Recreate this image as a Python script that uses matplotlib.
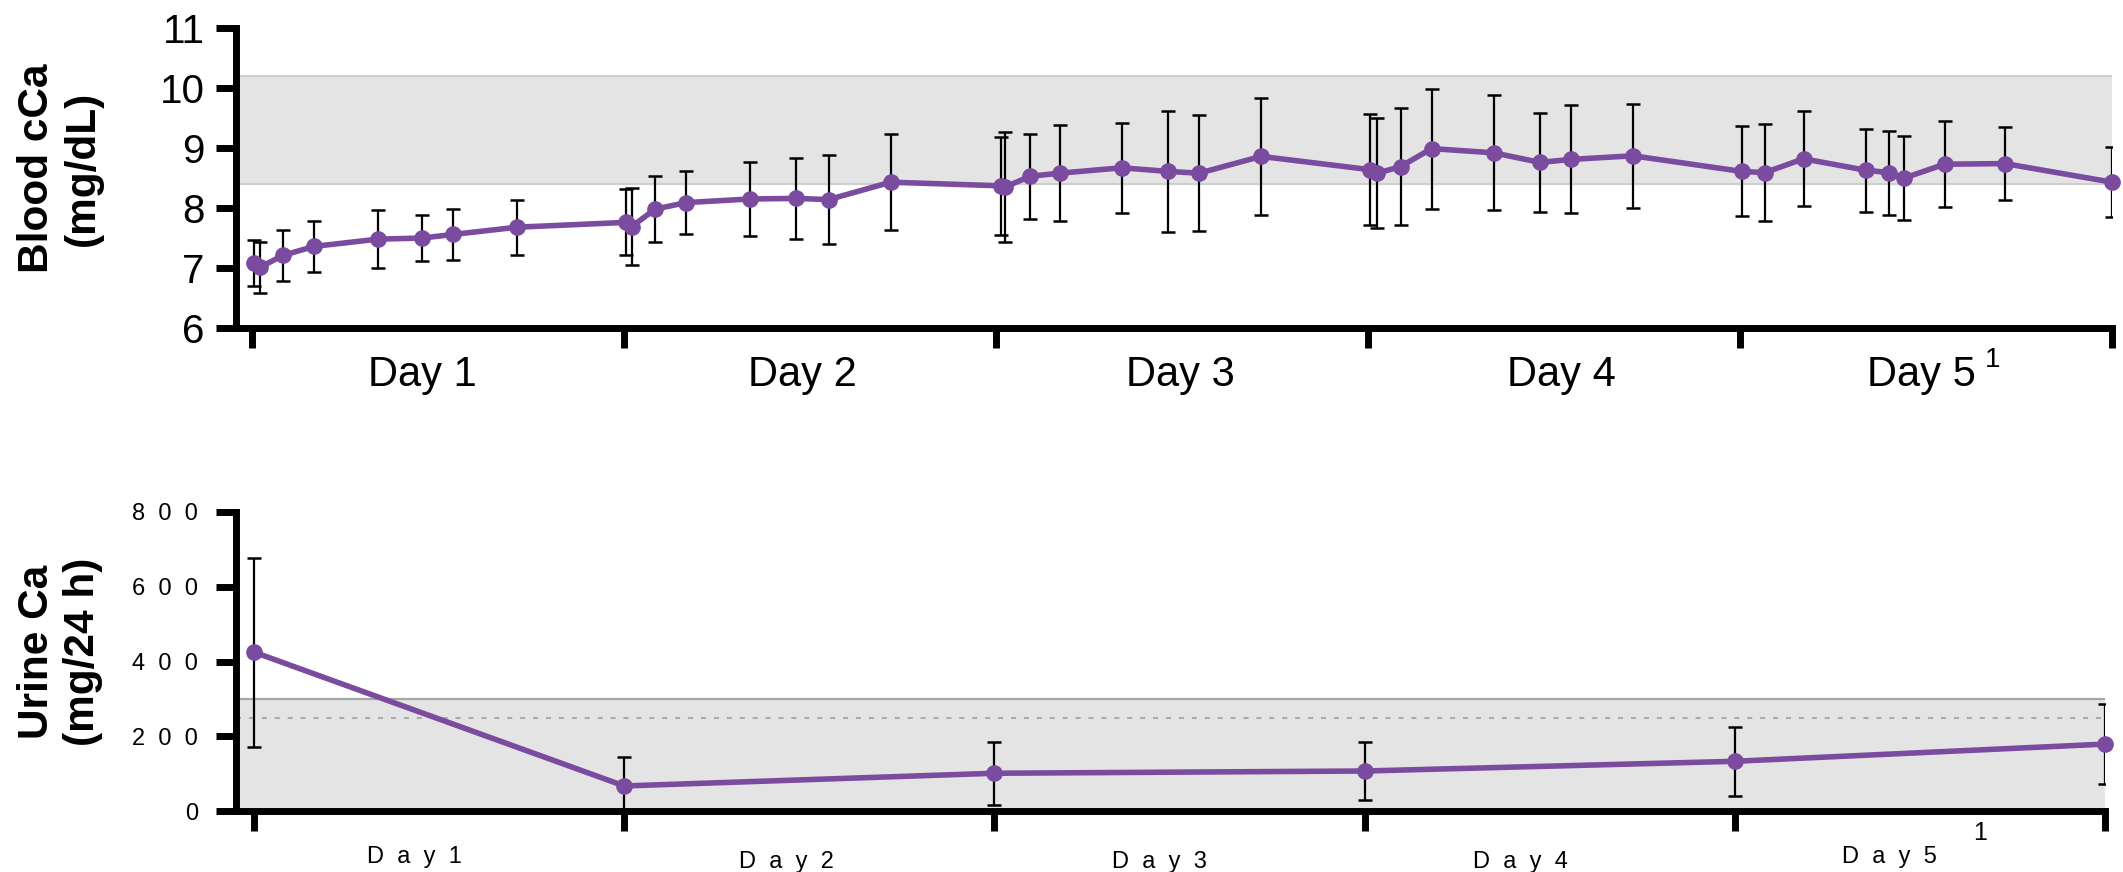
import matplotlib
matplotlib.use("Agg")
import matplotlib.pyplot as plt
import matplotlib.transforms as mtransforms
from matplotlib import font_manager

# ---- data ----
ca_hours = [0.1, 0.5, 2.0, 4.0, 8.1, 11.0, 13.0, 17.1, 24.1, 24.5, 26.0, 28.0, 32.1, 35.1,
            37.2, 41.2, 48.3, 48.6, 50.2, 52.1, 56.1, 59.1, 61.1, 65.1, 72.1, 72.6, 74.1,
            76.1, 80.1, 83.1, 85.1, 89.1, 96.1, 97.6, 100.1, 104.1, 105.6, 106.6, 109.2,
            113.1, 120.0]
ca_mean = [7.08, 7.01, 7.21, 7.36, 7.48, 7.50, 7.56, 7.68, 7.76, 7.69, 7.98, 8.09, 8.15, 8.16,
           8.14, 8.43, 8.37, 8.35, 8.53, 8.58, 8.67, 8.61, 8.58, 8.86, 8.64, 8.58, 8.69,
           8.99, 8.92, 8.76, 8.81, 8.87, 8.61, 8.59, 8.82, 8.63, 8.59, 8.50, 8.73,
           8.74, 8.43]
ca_sd = [0.38, 0.42, 0.43, 0.42, 0.48, 0.39, 0.43, 0.46, 0.55, 0.64, 0.55, 0.52, 0.61, 0.67,
         0.74, 0.80, 0.82, 0.91, 0.71, 0.80, 0.75, 1.01, 0.97, 0.97, 0.92, 0.92, 0.98,
         1.00, 0.96, 0.83, 0.90, 0.87, 0.75, 0.81, 0.79, 0.69, 0.70, 0.70, 0.72,
         0.61, 0.58]
ca_ref_range = (8.4, 10.2)

urine_hours = [0, 24, 48, 72, 96, 120]
urine_mean = [425, 67, 101, 107, 133, 179]
urine_sd = [253, 77, 84, 78, 92, 108]
urine_ref_top = 300
urine_ref_dotted = 250

day_ticks = [0, 24, 48, 72, 96, 120]
day_labels = ["Day 1", "Day 2", "Day 3", "Day 4", "Day 5"]
top_label_x = [11.0, 35.5, 59.9, 84.5, 107.7]
bot_label_x = [10.4, 34.5, 58.7, 82.1, 106.0]
ca_yticks = [6, 7, 8, 9, 10, 11]
urine_yticks = [0, 200, 400, 600, 800]

PURPLE = "#7A4B9F"
BAND = "#E4E4E4"

names = {f.name for f in font_manager.fontManager.ttflist}
if "Liberation Sans Narrow" in names:
    NARROW, SP = "Liberation Sans Narrow", "   "
else:
    NARROW, SP = "Liberation Sans", "  "

plt.rcParams["font.family"] = ["Liberation Sans", "DejaVu Sans"]


def spaced(s):
    return SP.join(s.replace(" ", ""))


W, H = 2123, 872
fig = plt.figure(figsize=(W / 100, H / 100), dpi=100)

# ---------------- top panel: blood cCa ----------------
ax1 = fig.add_axes([236 / W, 1 - 328 / H, (2112 - 236) / W, 300 / H])
ax1.axhspan(*ca_ref_range, color=BAND, lw=0, zorder=0)
for v in ca_ref_range:
    ax1.axhline(v, color="#CFCFCF", lw=1.5, zorder=0.5)
ax1.errorbar(ca_hours, ca_mean, yerr=ca_sd, fmt="none", ecolor="black",
             elinewidth=1.6, capsize=4.8, capthick=1.8, zorder=2)
ax1.plot(ca_hours, ca_mean, "-o", color=PURPLE, lw=4, ms=11, zorder=3, clip_on=False)
ax1.set_xlim(-1.03, 120)
ax1.set_ylim(6, 11)
ax1.set_yticks(ca_yticks)
ax1.set_yticklabels([str(v) for v in ca_yticks], fontsize=29)
ax1.set_xticks(day_ticks)
ax1.set_xticklabels([])

trans1 = mtransforms.blended_transform_factory(ax1.transData, ax1.transAxes)
for x, lab in zip(top_label_x, day_labels):
    ax1.text(x, -0.193, lab, transform=trans1, ha="center", va="baseline", fontsize=30)
ax1.text(112.3, -0.13, "1", transform=trans1, ha="center", va="baseline", fontsize=20)

# ---------------- bottom panel: urine Ca ----------------
ax2 = fig.add_axes([236 / W, 1 - 811 / H, (2105 - 236) / W, 299 / H])
ax2.axhspan(0, urine_ref_top, color=BAND, lw=0, zorder=0)
ax2.axhline(urine_ref_top, color="#A6A6A6", lw=1.6, zorder=0.5)
ax2.axhline(urine_ref_dotted, color="#ABABAB", lw=1.5, ls=(0, (2.4, 3.8)), zorder=0.5)
ax2.errorbar(urine_hours, urine_mean, yerr=urine_sd, fmt="none", ecolor="black",
             elinewidth=1.6, capsize=4.8, capthick=1.8, zorder=2)
ax2.plot(urine_hours, urine_mean, "-o", color=PURPLE, lw=4, ms=11, zorder=3, clip_on=False)
ax2.set_xlim(-1.17, 120)
ax2.set_ylim(0, 800)
ax2.set_yticks(urine_yticks)
ax2.set_yticklabels([spaced(str(v)) for v in urine_yticks], fontsize=17, family=NARROW)
ax2.set_xticks(day_ticks)
ax2.set_xticklabels([])

offset = mtransforms.ScaledTranslation(0, -7 / 100, fig.dpi_scale_trans)
for lab in ax2.get_yticklabels():
    lab.set_transform(lab.get_transform() + offset)

trans2 = mtransforms.blended_transform_factory(ax2.transData, ax2.transAxes)
bot_base = [-0.174, -0.191, -0.191, -0.191, -0.174]
for x, y, lab in zip(bot_label_x, bot_base, day_labels):
    ax2.text(x, y, spaced(lab), transform=trans2, ha="center", va="baseline",
             fontsize=17, family=NARROW, clip_on=False)
ax2.text(111.9, -0.097, "1", transform=trans2, ha="center", va="baseline",
         fontsize=18, family=NARROW)

# shared axis styling
for ax in (ax1, ax2):
    for side in ("top", "right"):
        ax.spines[side].set_visible(False)
    for side in ("left", "bottom"):
        ax.spines[side].set_linewidth(5)
        ax.spines[side].set_capstyle("projecting")
    ax.tick_params(axis="both", direction="out", length=14.5, width=5, color="black")
ax1.tick_params(axis="y", pad=8)
ax2.tick_params(axis="y", pad=13)

fig.text(60 / W, 1 - 168 / H, "Blood cCa\n(mg/dL)", rotation=90, ha="center", va="center",
         fontsize=30.5, fontweight="bold", linespacing=1.2)
fig.text(60 / W, 1 - 652 / H, "Urine Ca\n(mg/24 h)", rotation=90, ha="center", va="center",
         fontsize=30.5, fontweight="bold", linespacing=1.2)

fig.savefig("out.png", dpi=100)
